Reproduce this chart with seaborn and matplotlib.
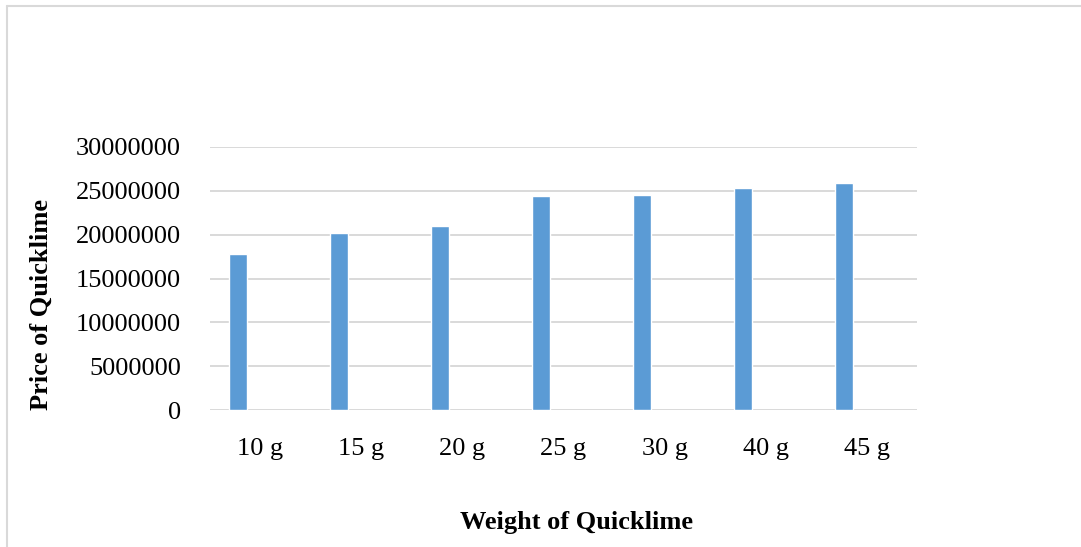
import matplotlib
matplotlib.use("Agg")
import matplotlib.pyplot as plt
import seaborn as sns
import pandas as pd
from matplotlib.lines import Line2D

# values
weights = ["10 g", "15 g", "20 g", "25 g", "30 g", "40 g", "45 g"]
prices = [17800000, 20150000, 20980000, 24400000, 24480000, 25300000, 25850000]

df = pd.DataFrame({"Weight": weights, "Price": prices})

sns.set_theme(style="white")
plt.rcParams['font.family'] = ['Liberation Serif', 'DejaVu Serif']

fig = plt.figure(figsize=(10.81, 5.47), dpi=100)
ax = fig.add_axes([0.1943, 0.2499, 0.6540, 0.4819])

sns.barplot(data=df, x="Weight", y="Price", color="#5B9BD5",
            width=0.172, saturation=1, ax=ax)

# Excel-style: bar sits left of the category centre
for p in ax.patches:
    p.set_x(p.get_x() - 0.223)

ax.set_xlim(-0.5, 6.5)
ax.set_ylim(0, 30000000)
ax.set_yticks(range(0, 30000001, 5000000))
ax.set_yticklabels([str(v) for v in range(0, 30000001, 5000000)])
ax.yaxis.grid(True, color="#D9D9D9", linewidth=1.4)
ax.set_axisbelow(True)
for s in ax.spines.values():
    s.set_visible(False)
ax.tick_params(axis="both", length=0, labelsize=19, colors="black")
ax.tick_params(axis="y", pad=21)
ax.tick_params(axis="x", pad=20)

ax.set_xlabel("Weight of Quicklime", fontsize=19, fontweight="bold", color="black")
ax.set_ylabel("Price of Quicklime", fontsize=19, fontweight="bold", color="black")
ax.xaxis.set_label_coords(0.519, -0.382)
ax.yaxis.set_label_coords(-0.222, 0.40)

# light chart-area border (top and left)
W, H = 1081, 547
fig.add_artist(Line2D([7 / W, 1], [1 - 6 / H, 1 - 6 / H], color="#D9D9D9", linewidth=1.5))
fig.add_artist(Line2D([7 / W, 7 / W], [0, 1 - 6 / H], color="#D9D9D9", linewidth=1.5))

fig.savefig("out.png", dpi=100)
